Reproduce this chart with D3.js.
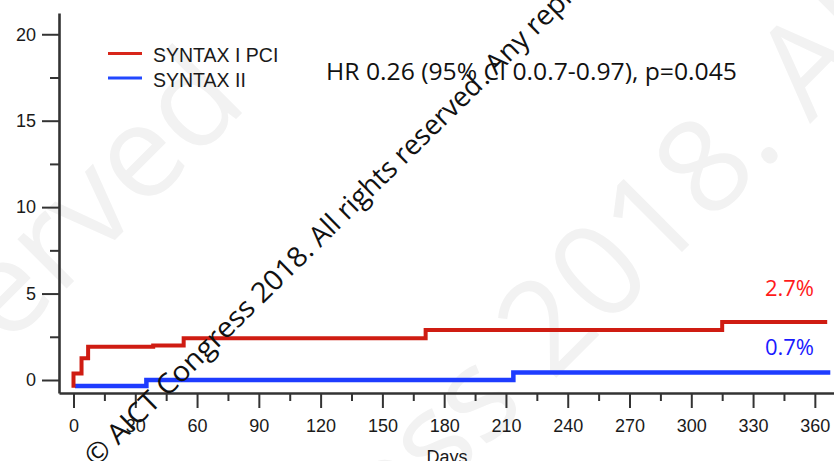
<!DOCTYPE html>
<html>
<head>
<meta charset="utf-8">
<script src="https://cdn.jsdelivr.net/npm/d3@7"></script>
<style>
  body { margin: 0; background: #fff; }
  svg { display: block; }
</style>
</head>
<body>
<div id="chart"></div>
<script>
// Kaplan-Meier style step curves (axis units)
const pciDays   = [0, 0, 3.9, 7.1, 38.7, 53.5, 171, 315, 366];
const pciVals   = [-0.45, 0.38, 1.26, 1.93, 2.0, 2.41, 2.89, 3.36, 3.36];
const syn2Days  = [0.7, 35.4, 213.6, 367.5];
const syn2Vals  = [-0.35, 0.0, 0.43, 0.43];

const seriesNames  = ["SYNTAX I PCI", "SYNTAX II"];
const endLabels    = ["2.7%", "0.7%"];
const xMajorTicks  = d3.range(0, 361, 30);
const xMinorTicks  = d3.range(15, 360, 30);
const yMajorTicks  = [0, 5, 10, 15, 20];
const yMinorTicks  = [2.5, 7.5, 12.5, 17.5];
const hrText       = "HR 0.26 (95% CI 0.0.7-0.97), p=0.045";

const width = 834, height = 461;

const svg = d3.select("#chart").append("svg")
    .attr("width", width)
    .attr("height", height);

// big faint watermark behind everything
const bigMark = svg.append("g")
    .attr("font-family", "Open Sans")
    .attr("font-size", 130)
    .attr("fill", "#f2f2f2");
bigMark.append("text")
    .attr("transform", "translate(250,105) rotate(-45)")
    .attr("text-anchor", "end")
    .text("All rights reserved");
bigMark.append("text")
    .attr("transform", "translate(762,172) rotate(-45)")
    .attr("text-anchor", "end")
    .text("AICT Congress 2018");
bigMark.append("text")
    .attr("transform", "translate(762,172) rotate(-45)")
    .text(". All rights reserved");

// scales
const x = d3.scaleLinear().domain([-7.04, 369.3]).range([59, 834]);
const y = d3.scaleLinear().domain([-0.752, 21.23]).range([393, 13]);

// axes
const axisColor = "#333";
svg.append("g")
    .attr("transform", "translate(59,0)")
    .call(d3.axisLeft(y).tickValues(yMajorTicks).tickSize(17).tickSizeOuter(0).tickPadding(6));
svg.append("g")
    .attr("transform", "translate(59,0)")
    .call(d3.axisLeft(y).tickValues(yMinorTicks).tickSize(9).tickSizeOuter(0).tickFormat(""))
    .select(".domain").remove();

svg.append("g")
    .attr("transform", "translate(0,393)")
    .call(d3.axisBottom(x).tickValues(xMajorTicks).tickSize(15).tickSizeOuter(0).tickPadding(11));
svg.append("g")
    .attr("transform", "translate(0,393)")
    .call(d3.axisBottom(x).tickValues(xMinorTicks).tickSize(8).tickSizeOuter(0).tickFormat(""))
    .select(".domain").remove();

svg.selectAll(".domain").attr("stroke", axisColor).attr("stroke-width", 2.6);
svg.selectAll(".tick line").attr("stroke", axisColor).attr("stroke-width", 2);
svg.selectAll(".tick text")
    .attr("font-family", "Liberation Sans, Arial, sans-serif")
    .attr("font-size", 18)
    .attr("fill", "#1a1a1a");

svg.append("text")
    .attr("x", 447).attr("y", 463)
    .attr("text-anchor", "middle")
    .attr("font-family", "Liberation Sans, Arial, sans-serif")
    .attr("font-size", 18)
    .attr("fill", "#1a1a1a")
    .text("Days");

// step lines
const line = d3.line()
    .x(d => x(d[0]))
    .y(d => y(d[1]))
    .curve(d3.curveStepAfter);

const pciData  = pciDays.map((d, i) => [d, pciVals[i]]);
const syn2Data = syn2Days.map((d, i) => [d, syn2Vals[i]]);

svg.append("path")
    .datum(syn2Data)
    .attr("d", line)
    .attr("fill", "none")
    .attr("stroke", "#1e3cff")
    .attr("stroke-width", 4.5);

svg.append("path")
    .datum(pciData)
    .attr("d", line)
    .attr("fill", "none")
    .attr("stroke", "#cf1c12")
    .attr("stroke-width", 4);

// legend
const legend = svg.append("g")
    .attr("font-family", "Liberation Sans, Arial, sans-serif")
    .attr("font-size", 19.5)
    .attr("fill", "#1a1a1a");
const legendColors = ["#d8261a", "#2248ff"];
seriesNames.forEach((name, i) => {
    const ly = 53.5 + i * 24.5;
    legend.append("line")
        .attr("x1", 108).attr("x2", 142)
        .attr("y1", ly).attr("y2", ly)
        .attr("stroke", legendColors[i])
        .attr("stroke-width", 3);
    legend.append("text")
        .attr("x", 153).attr("y", ly + 8.5)
        .text(name);
});

// annotations
svg.append("text")
    .attr("x", 326).attr("y", 80)
    .attr("font-family", "Open Sans")
    .attr("font-size", 23.5)
    .attr("fill", "#111")
    .attr("textLength", 411)
    .attr("lengthAdjust", "spacingAndGlyphs")
    .text(hrText);

svg.append("text")
    .attr("x", 814).attr("y", 296)
    .attr("text-anchor", "end")
    .attr("font-family", "Open Sans")
    .attr("font-size", 22)
    .attr("fill", "#ff1a1a")
    .text(endLabels[0]);

svg.append("text")
    .attr("x", 814).attr("y", 355)
    .attr("text-anchor", "end")
    .attr("font-family", "Open Sans")
    .attr("font-size", 22)
    .attr("fill", "#1a1aff")
    .text(endLabels[1]);

// diagonal copyright watermark on top
const mark = svg.append("g")
    .attr("font-family", "Open Sans")
    .attr("font-size", 28)
    .attr("fill", "#111");
mark.append("text")
    .attr("transform", "translate(310,258) rotate(-44.4)")
    .attr("text-anchor", "end")
    .attr("textLength", 300)
    .attr("lengthAdjust", "spacingAndGlyphs")
    .text("\u00A9 AICT Congress 2018");
mark.append("text")
    .attr("transform", "translate(310,258) rotate(-44.4)")
    .attr("textLength", 244)
    .attr("lengthAdjust", "spacingAndGlyphs")
    .text(". All rights reserved");
mark.append("text")
    .attr("transform", "translate(310,258) rotate(-44.4) translate(246,0)")
    .text(". Any reproduction");
</script>
</body>
</html>
